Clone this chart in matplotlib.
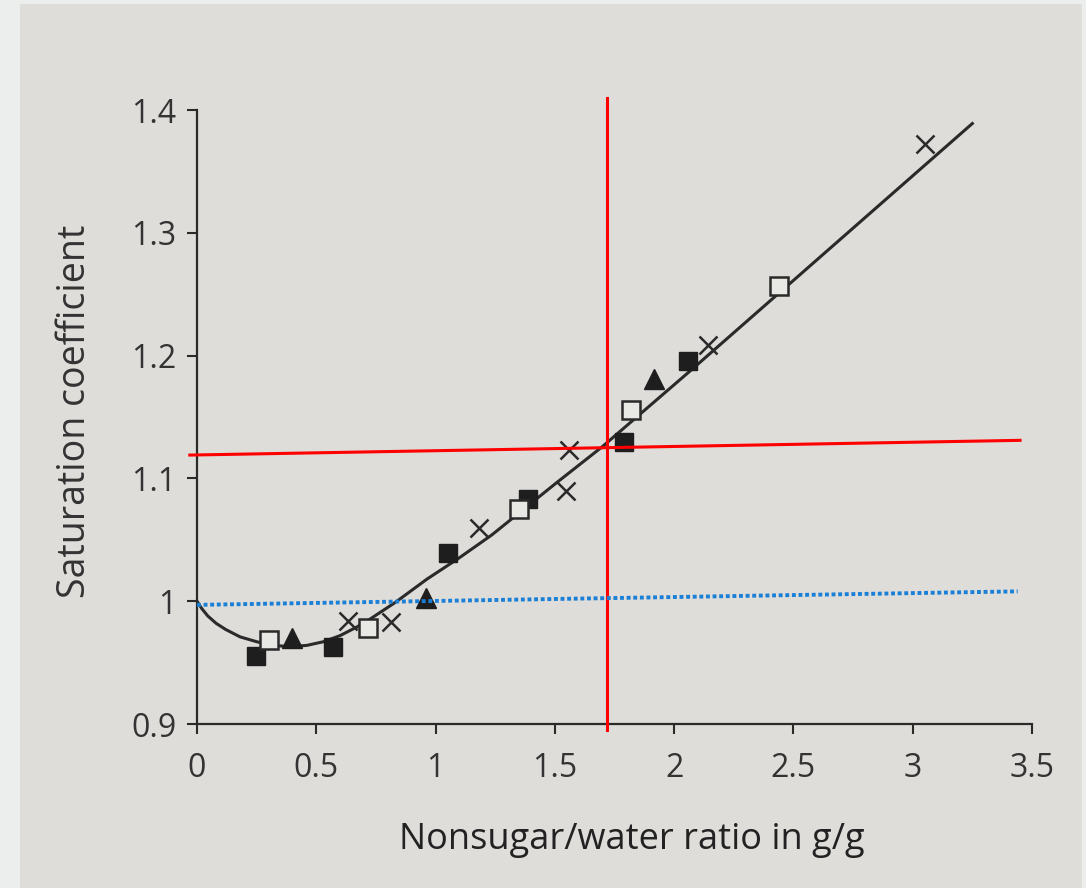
import matplotlib.pyplot as plt
from matplotlib.patches import Rectangle

plt.rcParams['font.family'] = ['Open Sans', 'DejaVu Sans']

# fitted curve
curve_x = [0, 0.02, 0.045, 0.08, 0.12, 0.18, 0.25, 0.32, 0.39, 0.46, 0.53, 0.60, 0.67, 0.722,
           0.831, 0.964, 1.097, 1.236, 1.37, 1.504, 1.70, 2.07, 2.44, 3.25]
curve_y = [1.0, 0.994, 0.988, 0.982, 0.977, 0.971, 0.967, 0.964, 0.963, 0.964, 0.967, 0.972, 0.979, 0.985,
           0.999, 1.018, 1.035, 1.054, 1.075, 1.096, 1.126, 1.188, 1.251, 1.389]

# measured points, one list per symbol
filled_sq_x = [0.246, 0.572, 1.054, 1.386, 1.789, 2.058]
filled_sq_y = [0.955, 0.963, 1.039, 1.083, 1.130, 1.196]
open_sq_x = [0.301, 0.718, 1.35, 1.818, 2.44]
open_sq_y = [0.968, 0.978, 1.075, 1.156, 1.257]
tri_x = [0.40, 0.96, 1.917]
tri_y = [0.970, 1.003, 1.181]
cross_x = [0.632, 0.815, 1.184, 1.545, 1.56, 2.14, 3.05]
cross_y = [0.984, 0.983, 1.060, 1.090, 1.123, 1.209, 1.372]

# hand-drawn guide lines
red_h_x = [-0.03, 3.45]
red_h_y = [1.119, 1.131]
red_v_x = [1.72, 1.72]
red_v_y = [0.895, 1.41]
blue_x = [0, 3.44]
blue_y = [0.997, 1.008]

xticks = [0, 0.5, 1, 1.5, 2, 2.5, 3, 3.5]
xtick_labels = ['0', '0.5', '1', '1.5', '2', '2.5', '3', '3.5']
yticks = [0.9, 1.0, 1.1, 1.2, 1.3, 1.4]
ytick_labels = ['0.9', '1', '1.1', '1.2', '1.3', '1.4']

ink = '#2a2a2a'
page = '#dedddA'

fig = plt.figure(figsize=(10.86, 8.88), dpi=100)
fig.patch.set_facecolor('#eceeee')
fig.patches.append(Rectangle((20 / 1086, 0), 1062 / 1086, 884 / 888,
                             transform=fig.transFigure, facecolor=page,
                             edgecolor='none', zorder=-10))

ax = fig.add_axes([197 / 1086, 1 - 724 / 888, 835 / 1086, 614 / 888])
ax.set_facecolor('none')

ax.plot(curve_x, curve_y, color=ink, lw=2.2, zorder=3)

ax.plot(filled_sq_x, filled_sq_y, 's', ms=13, color='#1e1e1e', mec='#1e1e1e', zorder=4)
ax.plot(open_sq_x, open_sq_y, 's', ms=13, mfc='#e8e8e5', mec=ink, mew=1.8, zorder=4)
ax.plot(tri_x, tri_y, '^', ms=14, color='#1e1e1e', zorder=4)
ax.plot(cross_x, cross_y, 'x', ms=13, mec=ink, mew=1.8, zorder=4)

ax.plot(red_h_x, red_h_y, color='#ff0000', lw=2.2, zorder=5, clip_on=False)
ax.plot(red_v_x, red_v_y, color='#ff0000', lw=2.2, zorder=5, clip_on=False)
ax.plot(blue_x, blue_y, color='#1a7fd6', lw=2.8, ls=(0, (1, 0.7)), zorder=5, clip_on=False)

ax.set_xlim(0, 3.5)
ax.set_ylim(0.9, 1.4)
ax.set_xticks(xticks, xtick_labels)
ax.set_yticks(yticks, ytick_labels)

for side in ['top', 'right']:
    ax.spines[side].set_visible(False)
for side in ['left', 'bottom']:
    ax.spines[side].set_color(ink)
    ax.spines[side].set_linewidth(1.6)

ax.tick_params(axis='both', colors=ink, labelcolor='#333333', labelsize=23,
               width=1.5, length=7, direction='out')
ax.tick_params(axis='x', pad=13)
ax.tick_params(axis='y', pad=8)

ax.set_xlabel('Nonsugar/water ratio in g/g', fontsize=26, color='#222222')
ax.set_ylabel('Saturation coefficient', fontsize=27, color='#333333')
ax.xaxis.set_label_coords(435 / 835, -98 / 614)
ax.yaxis.set_label_coords(-103 / 835, 313 / 614)

fig.savefig('out.png', dpi=100, facecolor=fig.get_facecolor())
